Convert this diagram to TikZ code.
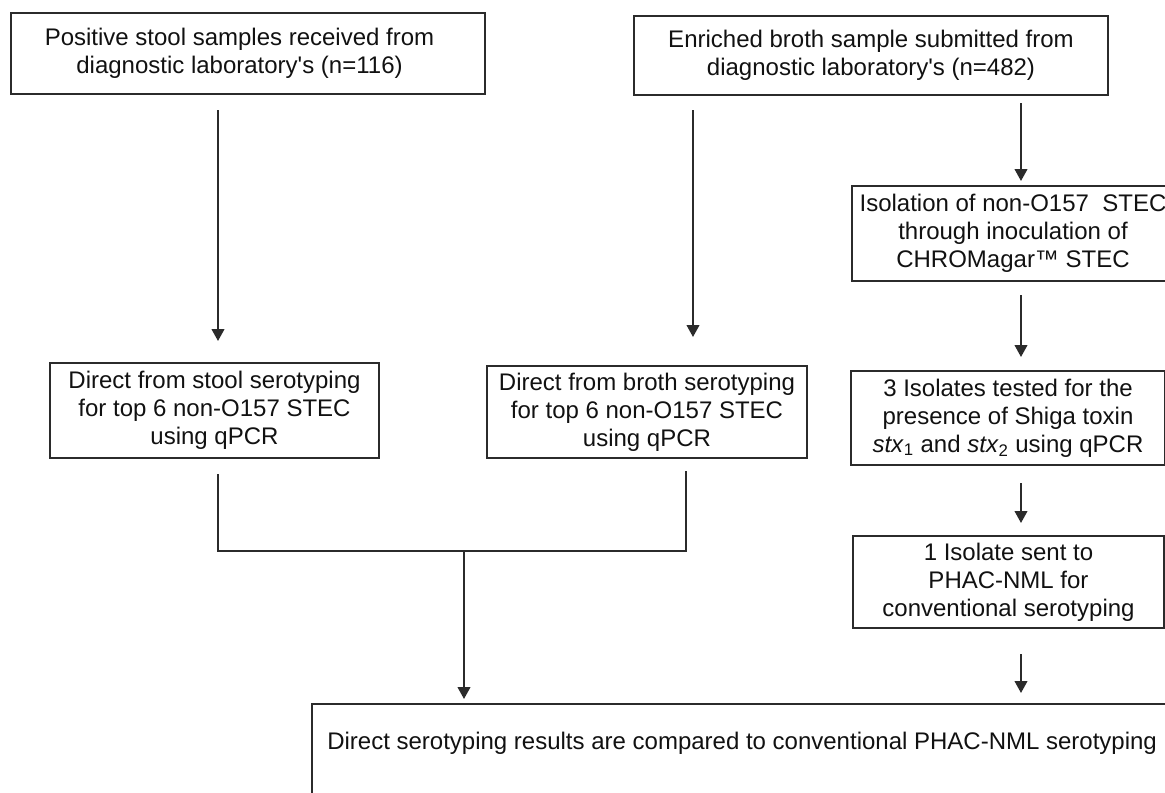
\documentclass[tikz,border=0pt]{standalone}
\usepackage{fontspec}
\setmainfont{Liberation Sans}
\usetikzlibrary{arrows.meta}
\definecolor{ln}{HTML}{2B2B2B}
\definecolor{tx}{HTML}{111111}
\begin{document}
\begin{tikzpicture}[x=0.75pt,y=-0.75pt,
  box/.style={draw=ln, line width=1.5pt, rectangle, inner sep=0pt, align=center, text=tx,
    font=\fontsize{18}{21}\selectfont},
  conn/.style={draw=ln, line width=1.5pt},
  arr/.style={conn, -{Triangle[length=9pt,width=9.5pt]}}]
\useasboundingbox (0,0) rectangle (1165,793);
\clip (0,0) rectangle (1165,793);

% boxes
\node[box, minimum width=355.5pt, minimum height=60.75pt] (box1) at (247.5,53.5)
  {Positive stool samples received from\hspace*{12pt}\\diagnostic laboratory\textquotesingle s (n=116)\hspace*{12pt}};
\node[box, minimum width=355.5pt, minimum height=59.25pt] (box2) at (871,55.5)
  {Enriched broth sample submitted from\\diagnostic laboratory\textquotesingle s (n=482)};
\node[box, minimum width=246.75pt, minimum height=71.25pt] (stool) at (214.5,410.5)
  {Direct from stool serotyping\\for top 6 non-O157 STEC\\using qPCR};
\node[box, minimum width=240pt, minimum height=69pt] (broth) at (647,412)
  {Direct from broth serotyping\\for top 6 non-O157 STEC\\using qPCR};
\node[box, minimum width=241.5pt, minimum height=71.25pt] (iso) at (1013,233.5)
  {Isolation of non-O157\ \ STEC\\through inoculation of\\CHROMagar™ STEC};
\node[box, minimum width=235.5pt, minimum height=70.5pt] (three) at (1008,418)
  {3 Isolates tested for the\\presence of Shiga toxin\\\textit{stx}\textsubscript{1} and \textit{stx}\textsubscript{2} using qPCR};
\node[box, minimum width=233.25pt, minimum height=69pt] (one) at (1008.5,582)
  {1 Isolate sent to\\PHAC-NML for\\conventional serotyping};
\node[box, minimum width=666pt, minimum height=94.5pt] (final) at (756,767) {};
\node[anchor=west, inner sep=0pt, text=tx, font=\fontsize{18}{21}\selectfont] (fintext) at (327,743)
  {Direct serotyping results are compared to conventional PHAC-NML serotyping};

% connector columns
\coordinate (xa) at (218,0);
\coordinate (xb) at (693,0);
\coordinate (xc) at (686,0);
\coordinate (xm) at (464,0);
\coordinate (xr) at (1021,0);
\coordinate (jy) at (0,551);

% arrows
\draw[arr, shorten <=11.25pt, shorten >=15.75pt] (box1.south -| xa) -- (stool.north -| xa);
\draw[arr, shorten <=10.5pt, shorten >=21pt] (box2.south -| xb) -- (broth.north -| xb);
\draw[arr, shorten <=5.25pt, shorten >=3pt] (box2.south -| xr) -- (iso.north -| xr);
\draw[arr, shorten <=9.75pt, shorten >=9.75pt] (iso.south -| xr) -- (three.north -| xr);
\draw[arr, shorten <=12.75pt, shorten >=9pt] (three.south -| xr) -- (one.north -| xr);
\draw[arr, shorten <=18.75pt, shorten >=7.5pt] (one.south -| xr) -- (final.north -| xr);

% merge
\draw[conn, shorten <=11.25pt, shorten >=9pt] (stool.south -| xa) -- (xa |- jy) -- (xc |- jy) -- (broth.south -| xc);
\draw[arr, shorten >=3pt] (xm |- jy) -- (final.north -| xm);
\end{tikzpicture}
\end{document}
